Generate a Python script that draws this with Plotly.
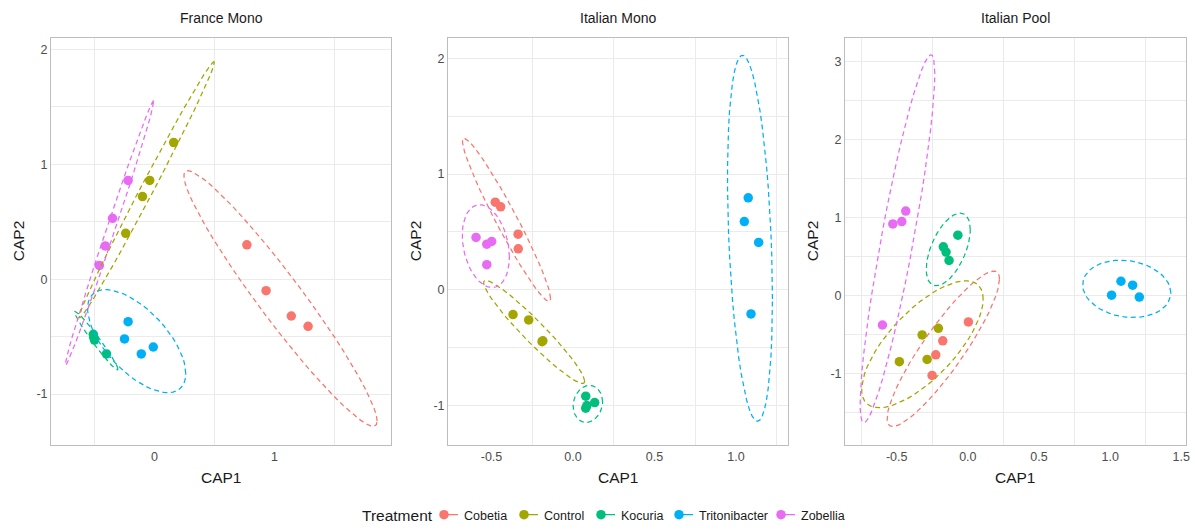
import numpy as np
import plotly.graph_objects as go

# ---------------- data ----------------
treatments = ["Cobetia", "Control", "Kocuria", "Tritonibacter", "Zobellia"]
colors = ["#F8766D", "#A3A500", "#00BF7D", "#00B0F6", "#E76BF3"]
panel_titles = ["France Mono", "Italian Mono", "Italian Pool"]

group = (["Cobetia"] * 4 + ["Control"] * 4 + ["Kocuria"] * 4
         + ["Tritonibacter"] * 4 + ["Zobellia"] * 4)

france_cap1 = [0.77, 0.93, 1.14, 1.28,
               0.16, -0.04, -0.10, -0.24,
               -0.51, -0.50, -0.505, -0.40,
               -0.22, -0.25, -0.11, -0.01,
               -0.22, -0.35, -0.41, -0.46]
france_cap2 = [0.30, -0.10, -0.32, -0.41,
               1.19, 0.86, 0.72, 0.40,
               -0.48, -0.53, -0.51, -0.65,
               -0.37, -0.52, -0.65, -0.59,
               0.86, 0.53, 0.29, 0.12]

itmono_cap1 = [-0.477, -0.444, -0.337, -0.336,
               -0.368, -0.272, -0.19, -0.185,
               0.078, 0.133, 0.078, 0.085,
               1.075, 1.051, 1.139, 1.092,
               -0.595, -0.529, -0.499, -0.529]
itmono_cap2 = [0.757, 0.717, 0.48, 0.354,
               -0.214, -0.26, -0.448, -0.44,
               -0.919, -0.974, -1.022, -1.0,
               0.794, 0.589, 0.409, -0.208,
               0.452, 0.394, 0.417, 0.217]

itpool_cap1 = [0.004, -0.176, -0.225, -0.251,
               -0.321, -0.207, -0.286, -0.481,
               -0.07, -0.172, -0.153, -0.132,
               1.076, 1.158, 1.01, 1.205,
               -0.527, -0.464, -0.436, -0.60]
itpool_cap2 = [-0.338, -0.58, -0.758, -1.022,
               -0.504, -0.42, -0.818, -0.847,
               0.772, 0.623, 0.556, 0.45,
               0.183, 0.132, 0.005, -0.02,
               0.916, 0.947, 1.081, -0.377]

x_tickvals = [[0, 1], [-0.5, 0.0, 0.5, 1.0], [-0.5, 0.0, 0.5, 1.0, 1.5]]
x_ticktext = [["0", "1"], ["-0.5", "0.0", "0.5", "1.0"], ["-0.5", "0.0", "0.5", "1.0", "1.5"]]
x_minorvals = [[-0.5, 0.5, 1.5], [-0.25, 0.25, 0.75, 1.25], [-0.75, -0.25, 0.25, 0.75, 1.25]]
y_tickvals = [[-1, 0, 1, 2], [-1, 0, 1, 2], [-1, 0, 1, 2, 3]]
y_ticktext = [["-1", "0", "1", "2"], ["-1", "0", "1", "2"], ["-1", "0", "1", "2", "3"]]
y_minorvals = [[-1.5, -0.5, 0.5, 1.5], [-0.5, 0.5, 1.5], [-1.5, -0.5, 0.5, 1.5, 2.5]]

x_ranges = [[-0.8625, 1.971], [-0.767, 1.319], [-0.863, 1.533]]
y_ranges = [[-1.44, 2.103], [-1.337, 2.177], [-1.908, 3.30]]

panels_data = [(france_cap1, france_cap2), (itmono_cap1, itmono_cap2), (itpool_cap1, itpool_cap2)]


# ---------------- stat_ellipse (type "t", level 0.95) ----------------
def cov_trob(x, nu=5, maxit=25, tol=0.01):
    n, p = x.shape
    wt = np.ones(n)
    loc = x.mean(axis=0)
    w = np.sqrt(wt)
    X = x - loc
    for _ in range(maxit):
        w0 = w
        X = x - loc
        A = np.sqrt(w / w.sum())[:, None] * X
        _, d, vt = np.linalg.svd(A, full_matrices=False)
        wX = X @ vt.T @ np.diag(1.0 / d)
        Q = (wX ** 2).sum(axis=1)
        w = (wt * (nu + p)) / (nu + Q)
        loc = (w[:, None] * x).sum(axis=0) / w.sum()
        if np.all(np.abs(w - w0) < tol):
            break
    sx = np.sqrt(w)[:, None] * X
    cov = sx.T @ sx / wt.sum()
    return cov, loc


def ellipse_path(xs, ys, level=0.95, segments=51):
    pts = np.column_stack([xs, ys]).astype(float)
    n = len(pts)
    cov, center = cov_trob(pts)
    dfd = n - 1
    qf = (dfd / 2.0) * ((1 - level) ** (-2.0 / dfd) - 1)
    radius = np.sqrt(2 * qf)
    L = np.linalg.cholesky(cov)
    ang = np.arange(segments + 1) * 2 * np.pi / segments
    circ = np.column_stack([np.cos(ang), np.sin(ang)])
    ell = center + radius * (circ @ L.T)
    return ell[:, 0], ell[:, 1]


# ---------------- figure ----------------
W, H = 1195, 530
x_dom_px = [(51, 391), (448, 788), (845, 1186)]
y_dom_px = (38, 448)
font_family = "Liberation Sans, Arial, sans-serif"
legend_key_px = [444, 524, 601, 679, 781]
legend_y_px = 519

fig = go.Figure()
grp = np.array(group)

for pi, (cx, cy) in enumerate(panels_data):
    xa = "x" if pi == 0 else f"x{pi + 1}"
    ya = "y" if pi == 0 else f"y{pi + 1}"
    cx = np.array(cx)
    cy = np.array(cy)
    for t, col in zip(treatments, colors):
        m = grp == t
        fig.add_trace(go.Scatter(
            x=cx[m], y=cy[m], mode="markers", xaxis=xa, yaxis=ya,
            marker=dict(color=col, size=9.5, line=dict(width=0)),
            showlegend=False, name=t))
    for t, col in zip(treatments, colors):
        m = grp == t
        ex, ey = ellipse_path(cx[m], cy[m])
        fig.add_trace(go.Scatter(
            x=ex, y=ey, mode="lines", xaxis=xa, yaxis=ya,
            line=dict(color=col, width=1.25, dash="5px,3.5px"),
            showlegend=False, name=t, hoverinfo="skip"))

# legend entries (point with short line through it), one legend per key
for i, (t, col) in enumerate(zip(treatments, colors)):
    fig.add_trace(go.Scatter(
        x=[None], y=[None], mode="lines+markers", name=t,
        legend="legend" if i == 0 else f"legend{i + 1}",
        marker=dict(color=col, size=9.5),
        line=dict(color=col, width=1.25, dash="0px,11px,18px,11px")))

grid_col = "#EBEBEB"
border_col = "#BDBDBD"
tick_font = dict(family=font_family, size=12.5, color="#4D4D4D")

layout_axes = {}
for pi in range(3):
    xkey = "xaxis" if pi == 0 else f"xaxis{pi + 1}"
    ykey = "yaxis" if pi == 0 else f"yaxis{pi + 1}"
    x0, x1 = x_dom_px[pi]
    layout_axes[xkey] = dict(
        domain=[x0 / W, x1 / W], range=x_ranges[pi],
        anchor="y" if pi == 0 else f"y{pi + 1}",
        tickmode="array", tickvals=x_tickvals[pi], ticktext=x_ticktext[pi],
        showgrid=False, zeroline=False, ticks="",
        showline=True, mirror=True, linecolor=border_col, linewidth=1,
        tickfont=tick_font, automargin=False,
        minor=dict(tickmode="array", tickvals=x_minorvals[pi], showgrid=True,
                   gridcolor=grid_col, gridwidth=1, ticks=""),
    )
    layout_axes[ykey] = dict(
        domain=[1 - y_dom_px[1] / H, 1 - y_dom_px[0] / H], range=y_ranges[pi],
        anchor="x" if pi == 0 else f"x{pi + 1}",
        tickmode="array", tickvals=y_tickvals[pi], ticktext=y_ticktext[pi],
        showgrid=True, gridcolor=grid_col, gridwidth=1, zeroline=False, ticks="",
        showline=True, mirror=True, linecolor=border_col, linewidth=1,
        tickfont=tick_font, automargin=False,
        minor=dict(tickmode="array", tickvals=y_minorvals[pi], showgrid=True,
                   gridcolor=grid_col, gridwidth=1, ticks=""),
    )

# legends: one per key, placed at the key positions
for i in range(len(treatments)):
    key = "legend" if i == 0 else f"legend{i + 1}"
    layout_axes[key] = dict(
        orientation="h", x=(legend_key_px[i] - 20) / W, xanchor="left",
        y=1 - legend_y_px / H, yanchor="middle",
        font=dict(family=font_family, size=12.5, color="#1A1A1A"),
        itemwidth=30, bgcolor="rgba(0,0,0,0)", borderwidth=0,
    )

annotations = []
for pi in range(3):
    x0, x1 = x_dom_px[pi]
    xc = (x0 + x1) / 2
    annotations.append(dict(text=panel_titles[pi], x=xc / W, y=1 - 18 / H, xref="paper", yref="paper",
                            showarrow=False, xanchor="center", yanchor="middle",
                            font=dict(family=font_family, size=14, color="#1A1A1A")))
    annotations.append(dict(text="CAP1", x=xc / W, y=1 - 481 / H, xref="paper", yref="paper",
                            showarrow=False, xanchor="center", yanchor="middle",
                            font=dict(family=font_family, size=15.5, color="#1A1A1A")))
    annotations.append(dict(text="CAP2", x=(x0 - 33) / W, y=1 - 243 / H, xref="paper", yref="paper",
                            showarrow=False, xanchor="center", yanchor="middle", textangle=-90,
                            font=dict(family=font_family, size=15.5, color="#1A1A1A")))
annotations.append(dict(text="Treatment", x=360 / W, y=1 - 519 / H, xref="paper", yref="paper",
                        showarrow=False, xanchor="left", yanchor="middle",
                        font=dict(family=font_family, size=15.5, color="#1A1A1A")))

fig.update_layout(
    width=W, height=H,
    margin=dict(l=0, r=0, t=0, b=0),
    paper_bgcolor="white", plot_bgcolor="white",
    font=dict(family=font_family, color="#1A1A1A"),
    annotations=annotations,
    **layout_axes,
)

fig.write_html("out.html")
